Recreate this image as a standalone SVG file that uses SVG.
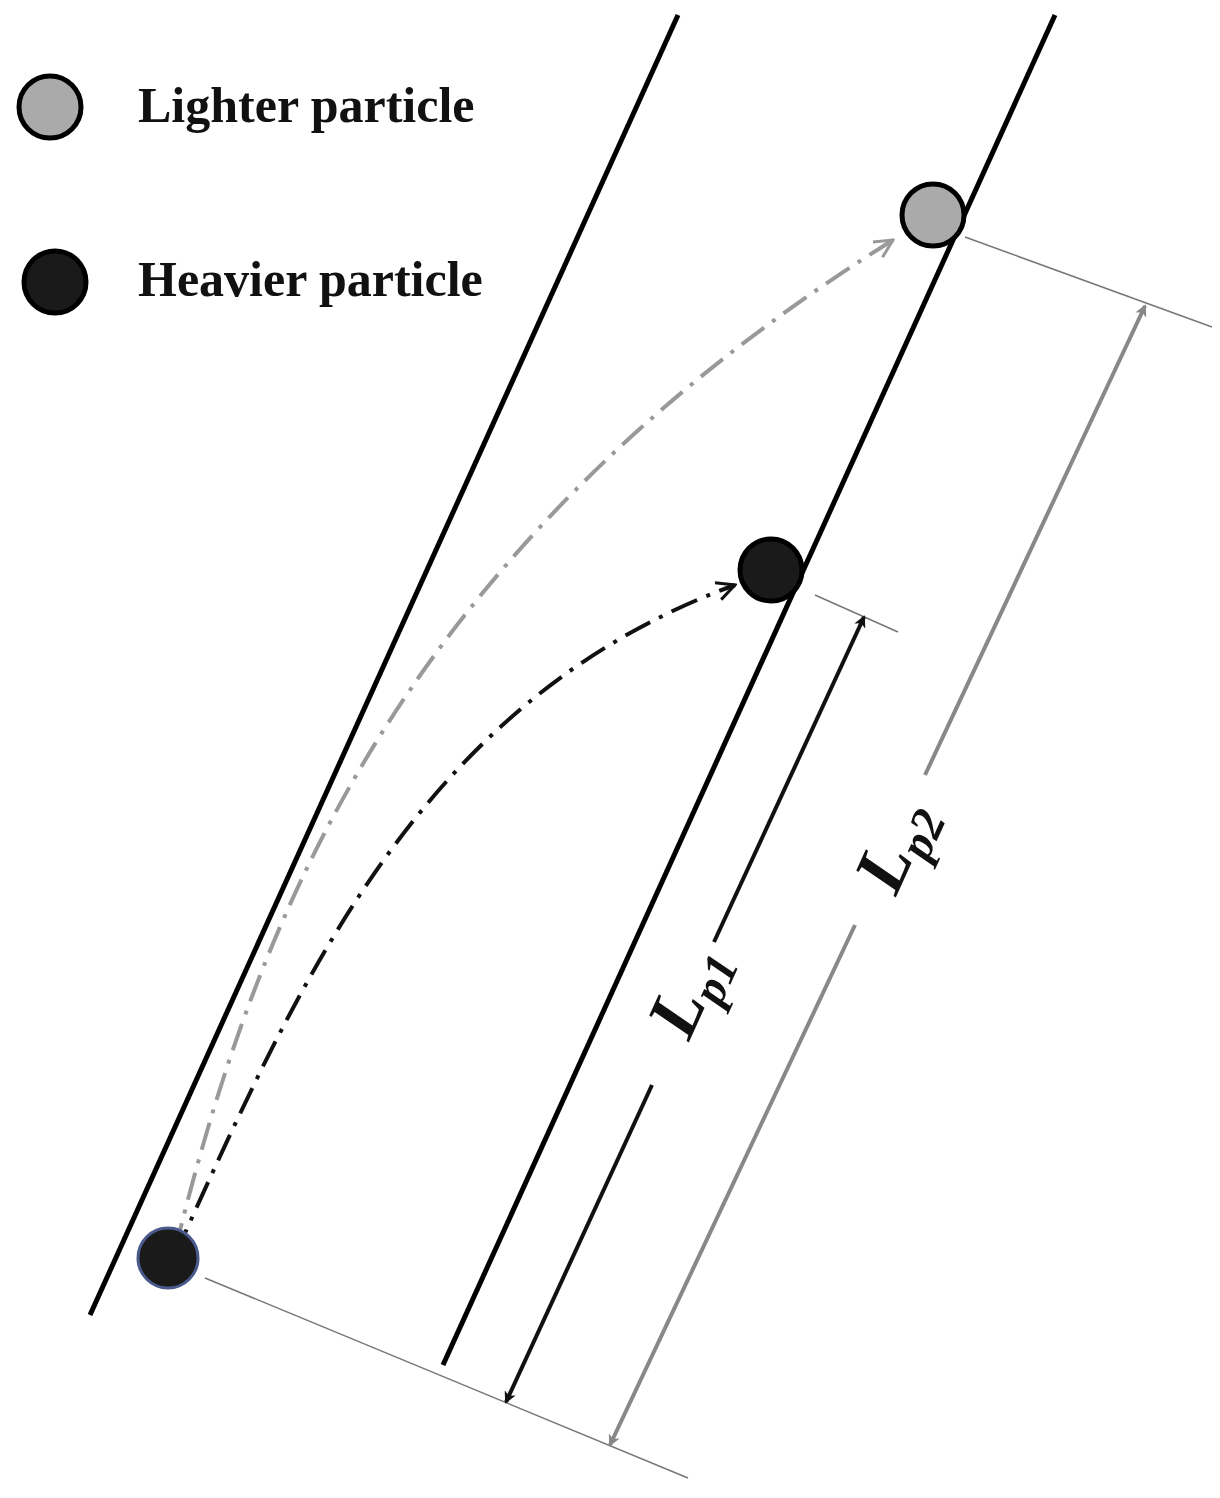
<svg xmlns="http://www.w3.org/2000/svg" width="1220" height="1498" viewBox="0 0 1220 1498">
<defs>
<marker id="ab" markerWidth="12" markerHeight="12" refX="10" refY="6" orient="auto" markerUnits="userSpaceOnUse"><path d="M0,0 L12,6 L0,12 L3,6 Z" fill="#111"/></marker>
<marker id="ag" markerWidth="12" markerHeight="12" refX="10" refY="6" orient="auto" markerUnits="userSpaceOnUse"><path d="M0,0 L12,6 L0,12 L3,6 Z" fill="#888"/></marker>
<marker id="ob" markerWidth="22" markerHeight="22" refX="20" refY="11" orient="auto" markerUnits="userSpaceOnUse"><path d="M2,2 L20,11 L2,20" fill="none" stroke="#111" stroke-width="3"/></marker>
<marker id="og" markerWidth="22" markerHeight="22" refX="20" refY="11" orient="auto" markerUnits="userSpaceOnUse"><path d="M2,2 L20,11 L2,20" fill="none" stroke="#999" stroke-width="3"/></marker>
</defs>
<style>
.t{font-family:"Liberation Serif",serif;font-weight:bold;font-size:50px;fill:#111}
.lbl{font-family:"Liberation Serif",serif;font-weight:bold;font-style:italic;font-size:72px;fill:#111}
.sub{font-size:48px}
.wall{stroke:#000;stroke-width:5;fill:none}
.ext{stroke:#777;stroke-width:1.5;fill:none}
</style>
<rect width="1220" height="1498" fill="#fff"/>
<g id="walls">
<line class="wall" x1="90" y1="1315" x2="678" y2="15"/>
<line class="wall" x1="443" y1="1365" x2="1055" y2="15"/>
</g>
<g id="connectors">
<line class="ext" x1="205" y1="1278" x2="688" y2="1478"/>
<line class="ext" x1="965" y1="237" x2="1212" y2="327"/>
<line class="ext" x1="815" y1="595" x2="898" y2="632"/>
<path d="M175,1250 C250,950 380,560 893,240" fill="none" stroke="#999" stroke-width="4" stroke-dasharray="28,10,4,10" marker-end="url(#og)"/>
<path d="M175,1255 C300,980 420,700 735,585" fill="none" stroke="#111" stroke-width="4" stroke-dasharray="28,10,4,10" marker-end="url(#ob)"/>
<line x1="652" y1="1085" x2="506" y2="1402" stroke="#111" stroke-width="4" marker-end="url(#ab)"/>
<line x1="714" y1="942" x2="864" y2="617" stroke="#111" stroke-width="4" marker-end="url(#ab)"/>
<line x1="855" y1="925" x2="610" y2="1445" stroke="#888" stroke-width="4" marker-end="url(#ag)"/>
<line x1="925" y1="775" x2="1145" y2="306" stroke="#888" stroke-width="4" marker-end="url(#ag)"/>
</g>
<g id="labels">
<text class="lbl" transform="translate(708,1000) rotate(-65.6)" text-anchor="middle">L<tspan class="sub" dy="14">p1</tspan></text>
<text class="lbl" transform="translate(915,855) rotate(-65.6)" text-anchor="middle">L<tspan class="sub" dy="14">p2</tspan></text>
</g>
<g id="legend">
<circle cx="50" cy="107" r="31" fill="#aaa" stroke="#000" stroke-width="5"/>
<text class="t" x="138" y="122">Lighter particle</text>
<circle cx="55" cy="282" r="31" fill="#1a1a1a" stroke="#000" stroke-width="5"/>
<text class="t" x="138" y="296">Heavier particle</text>
</g>
<g id="particles">
<circle cx="933" cy="215" r="31" fill="#aaa" stroke="#000" stroke-width="5"/>
<circle cx="771" cy="570" r="31" fill="#1a1a1a" stroke="#000" stroke-width="5"/>
<circle cx="168" cy="1258" r="30" fill="#1a1a1a" stroke="#4a5a8a" stroke-width="3"/>
</g>
</svg>
